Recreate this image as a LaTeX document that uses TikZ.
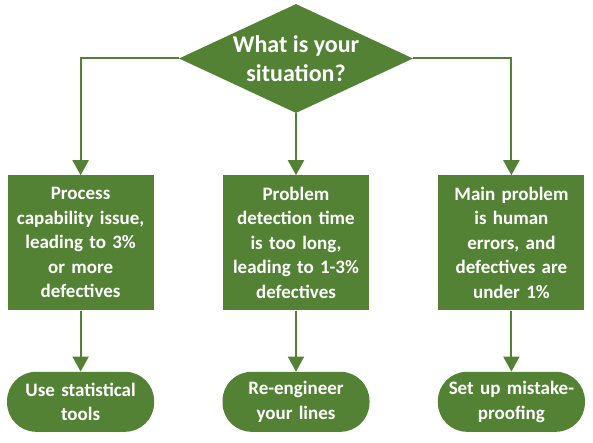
\documentclass[tikz,border=0pt]{standalone}
\usepackage{fontspec}
\setmainfont{Carlito}
\usetikzlibrary{arrows.meta,positioning,shapes.geometric}
\definecolor{leafgreen}{HTML}{548235}

\begin{document}
\begin{tikzpicture}[x=1pt, y=-1pt,
                    >={Triangle[width=16pt,length=15pt]},
                    every node/.style={font=\bfseries\fontsize{19}{24.5}\selectfont, text=white},
                    question/.style={diamond, aspect=2.15, fill=leafgreen, inner sep=-2pt,
                                     minimum width=234pt, minimum height=109pt, align=center,
                                     font=\bfseries\fontsize{24}{29}\selectfont},
                    situation/.style={rectangle, fill=leafgreen, inner sep=0pt,
                                      minimum width=146pt, minimum height=135pt,
                                      text width=140pt, align=center},
                    action/.style={rectangle, rounded corners=29pt, fill=leafgreen, inner sep=0pt,
                                   minimum width=147pt, minimum height=60pt,
                                   text width=140pt, align=center},
                    flow/.style={draw=leafgreen, line width=2pt, ->}]
\useasboundingbox (0,0) rectangle (593,443);
\node[question] (Q) at (296,58.5) {What is your\\situation?};
\node[situation, below=62pt of Q] (S2)
  {Problem\\detection time\\is too long,\\leading to 1-3\%\\defectives};
\node[situation, left=69pt of S2] (S1)
  {Process\\capability issue,\\leading to 3\%\\or more\\defectives};
\node[situation, right=69pt of S2] (S3)
  {Main problem\\is human\\errors, and\\defectives are\\under 1\%};
\node[action, below=61pt of S1] (A1) {Use statistical\\tools};
\node[action, below=61pt of S2] (A2) {Re-engineer\\your lines};
\node[action, below=61pt of S3] (A3) {Set up mistake-\\proofing};
\draw[flow] (Q.west) -| (S1.north);
\draw[flow] (Q) -- (S2);
\draw[flow] (Q.east) -| (S3.north);
\draw[flow] (S1) -- (A1);
\draw[flow] (S2) -- (A2);
\draw[flow] (S3) -- (A3);
\end{tikzpicture}
\end{document}
